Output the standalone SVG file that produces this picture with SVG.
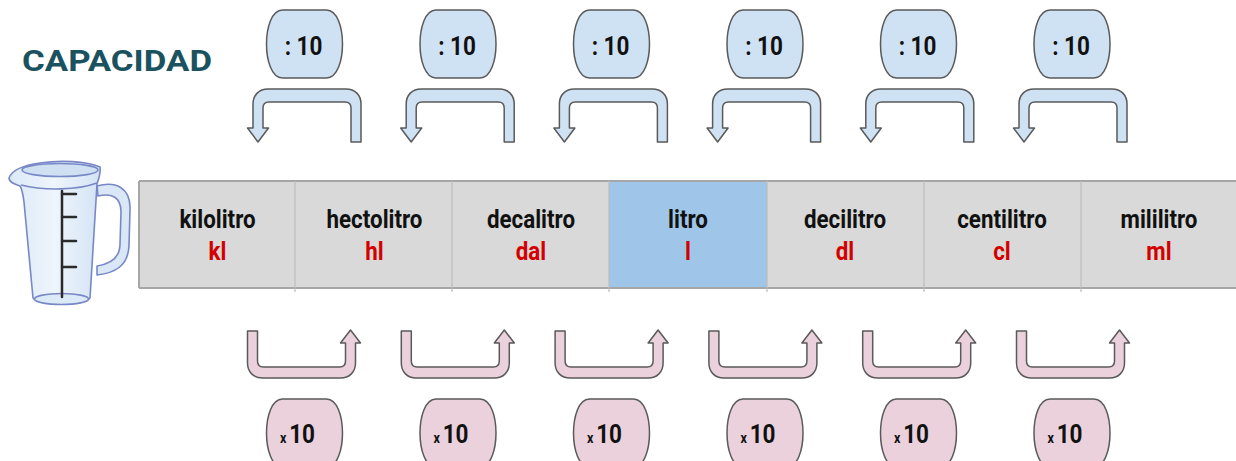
<svg xmlns="http://www.w3.org/2000/svg" width="1236" height="461" viewBox="0 0 1236 461">
  <style>
    .cell { fill: #d9d9d9; }
    .cell-main { fill: #9fc5e8; }
    .div { stroke: #bdbdbd; stroke-width: 1.2; }
    .edge { stroke: #a6a6a6; stroke-width: 2; }
    .name { font-family: Roboto, "Liberation Sans", sans-serif; font-weight: bold; font-size: 26px; fill: #111; text-anchor: middle; }
    .abbr { font-family: Roboto, "Liberation Sans", sans-serif; font-weight: bold; font-size: 26px; fill: #d40000; text-anchor: middle; }
    .title { font-family: Roboto, "Liberation Sans", sans-serif; font-weight: bold; font-size: 29px; fill: #1a5260; }
    .div-box { fill: #cfe2f3; stroke: #5a5a5a; stroke-width: 1.5; }
    .mul-box { fill: #ead1dc; stroke: #5a5a5a; stroke-width: 1.5; }
    .op { font-family: Roboto, "Liberation Sans", sans-serif; font-weight: bold; font-size: 25px; fill: #111; }
    .arrow-div { fill: #cfe2f3; stroke: #5a5a5a; stroke-width: 1.5; stroke-linejoin: round; }
    .arrow-mul { fill: #ead1dc; stroke: #5a5a5a; stroke-width: 1.5; stroke-linejoin: round; }
    .jug { stroke: #7888c6; stroke-width: 1.6; stroke-linejoin: round; }
    .tick { stroke: #2b2b2b; stroke-width: 2.5; stroke-linecap: round; }
  </style>
  <defs>
    <!-- barrel-shaped operator badge, centred on 0,0 -->
    <path id="badge" d="M-22,-34 H22 C33,-34 38,-16 38,0 C38,16 33,34 22,34 H-22 C-33,34 -38,16 -38,0 C-38,-16 -33,-34 -22,-34 Z"/>
    <!-- U-turn arrow pointing down-left; origin = centre of the left leg -->
    <path id="turn-down" d="M103,142 V104 C103,95 97,89 88,89 H10 C1,89 -5,95 -5,104 V128 H-10.5 L0,142 L10.5,128 H5 V108 C5,104 7,102 11,102 H87 C91,102 93,104 93,108 V142 Z"/>
    <!-- U-turn arrow pointing up-right; origin = centre of the left leg -->
    <path id="turn-up" d="M-5,331 V363 C-5,372 1,378 10,378 H88 C97,378 103,372 103,363 V343 H108 L98,330 L88,343 H93 V361 C93,365 91,367 87,367 H11 C7,367 5,365 5,361 V331 Z"/>
    <linearGradient id="glass" x1="0" y1="0" x2="1" y2="0">
      <stop offset="0" stop-color="#dbe9f7"/>
      <stop offset="0.5" stop-color="#eef5fc"/>
      <stop offset="1" stop-color="#d3e3f4"/>
    </linearGradient>
  </defs>

  <rect width="1236" height="461" fill="#ffffff"/>

  <text class="title" x="22" y="71" textLength="190" lengthAdjust="spacingAndGlyphs">CAPACIDAD</text>

  <!-- measuring jug -->
  <g id="jug">
    <path class="jug" fill="#d9e7f6" fill-rule="evenodd" d="M97,186 C115,181 131,187 130,210 L129,246 C128,266 115,273 97,275 L97,266 C110,264 120,258 120,244 L121,212 C121,197 112,193 98,196 Z"/>
    <path class="jug" fill="url(#glass)" d="M20,186 C14,184 9,182 9,178 C12,170 25,165 40,163 C60,160 86,161 100,167 C101,173 99,178 97,184 L90,298 C86,306 37,306 33,298 L24,202 C23,194 22,189 20,186 Z"/>
    <ellipse class="jug" cx="60" cy="170" rx="38" ry="6.5" fill="#cfe0f2"/>
    <path class="jug" fill="none" d="M21,185 C45,191 78,190 97,183"/>
    <ellipse class="jug" cx="61.5" cy="299" rx="27" ry="5.5" fill="#dce9f6"/>
    <line class="tick" x1="62" y1="191" x2="62" y2="297"/>
    <line class="tick" x1="62" y1="194" x2="76" y2="194"/>
    <line class="tick" x1="62" y1="217" x2="76" y2="217"/>
    <line class="tick" x1="62" y1="241" x2="76" y2="241"/>
    <line class="tick" x1="62" y1="267" x2="76" y2="267"/>
  </g>

  <!-- unit table -->
  <g id="table">
    <rect class="cell" x="139" y="181" width="1097" height="107"/>
    <rect class="cell-main" x="609" y="181" width="158" height="107"/>
    <line class="edge" x1="139" y1="181" x2="1236" y2="181"/>
    <line class="edge" x1="139" y1="288" x2="1236" y2="288"/>
    <line class="edge" x1="139" y1="181" x2="139" y2="288"/>
    <line class="div" x1="295" y1="181" x2="295" y2="292"/>
    <line class="div" x1="452" y1="181" x2="452" y2="292"/>
    <line class="div" x1="609" y1="181" x2="609" y2="292"/>
    <line class="div" x1="767" y1="181" x2="767" y2="292"/>
    <line class="div" x1="924" y1="181" x2="924" y2="292"/>
    <line class="div" x1="1081" y1="181" x2="1081" y2="292"/>
  </g>

  <g id="unit-kl"><text class="name" transform="translate(217.5,228) scale(0.86,1)">kilolitro</text><text class="abbr" transform="translate(217.5,260) scale(0.86,1)">kl</text></g>
  <g id="unit-hl"><text class="name" transform="translate(374.5,228) scale(0.86,1)">hectolitro</text><text class="abbr" transform="translate(374.5,260) scale(0.86,1)">hl</text></g>
  <g id="unit-dal"><text class="name" transform="translate(531,228) scale(0.86,1)">decalitro</text><text class="abbr" transform="translate(531,260) scale(0.86,1)">dal</text></g>
  <g id="unit-l"><text class="name" transform="translate(688,228) scale(0.86,1)">litro</text><text class="abbr" transform="translate(688,260) scale(0.86,1)">l</text></g>
  <g id="unit-dl"><text class="name" transform="translate(845,228) scale(0.86,1)">decilitro</text><text class="abbr" transform="translate(845,260) scale(0.86,1)">dl</text></g>
  <g id="unit-cl"><text class="name" transform="translate(1002,228) scale(0.86,1)">centilitro</text><text class="abbr" transform="translate(1002,260) scale(0.86,1)">cl</text></g>
  <g id="unit-ml"><text class="name" transform="translate(1159,228) scale(0.86,1)">mililitro</text><text class="abbr" transform="translate(1159,260) scale(0.86,1)">ml</text></g>

  <!-- divide-by-ten badges -->
  <g id="div-1" transform="translate(304.5,44)"><use href="#badge" class="div-box"/><text class="op" transform="translate(-1,11) scale(0.9,1)" text-anchor="middle">: 10</text></g>
  <g id="div-2" transform="translate(458,44)"><use href="#badge" class="div-box"/><text class="op" transform="translate(-1,11) scale(0.9,1)" text-anchor="middle">: 10</text></g>
  <g id="div-3" transform="translate(611.5,44)"><use href="#badge" class="div-box"/><text class="op" transform="translate(-1,11) scale(0.9,1)" text-anchor="middle">: 10</text></g>
  <g id="div-4" transform="translate(765,44)"><use href="#badge" class="div-box"/><text class="op" transform="translate(-1,11) scale(0.9,1)" text-anchor="middle">: 10</text></g>
  <g id="div-5" transform="translate(918.5,44)"><use href="#badge" class="div-box"/><text class="op" transform="translate(-1,11) scale(0.9,1)" text-anchor="middle">: 10</text></g>
  <g id="div-6" transform="translate(1072,44)"><use href="#badge" class="div-box"/><text class="op" transform="translate(-1,11) scale(0.9,1)" text-anchor="middle">: 10</text></g>

  <!-- multiply-by-ten badges -->
  <g id="mul-1" transform="translate(304.5,433)"><use href="#badge" class="mul-box"/><text class="op" transform="translate(-7,10) scale(0.9,1)" text-anchor="middle"><tspan font-size="14">x</tspan><tspan dx="3">10</tspan></text></g>
  <g id="mul-2" transform="translate(458,433)"><use href="#badge" class="mul-box"/><text class="op" transform="translate(-7,10) scale(0.9,1)" text-anchor="middle"><tspan font-size="14">x</tspan><tspan dx="3">10</tspan></text></g>
  <g id="mul-3" transform="translate(611.5,433)"><use href="#badge" class="mul-box"/><text class="op" transform="translate(-7,10) scale(0.9,1)" text-anchor="middle"><tspan font-size="14">x</tspan><tspan dx="3">10</tspan></text></g>
  <g id="mul-4" transform="translate(765,433)"><use href="#badge" class="mul-box"/><text class="op" transform="translate(-7,10) scale(0.9,1)" text-anchor="middle"><tspan font-size="14">x</tspan><tspan dx="3">10</tspan></text></g>
  <g id="mul-5" transform="translate(918.5,433)"><use href="#badge" class="mul-box"/><text class="op" transform="translate(-7,10) scale(0.9,1)" text-anchor="middle"><tspan font-size="14">x</tspan><tspan dx="3">10</tspan></text></g>
  <g id="mul-6" transform="translate(1072,433)"><use href="#badge" class="mul-box"/><text class="op" transform="translate(-7,10) scale(0.9,1)" text-anchor="middle"><tspan font-size="14">x</tspan><tspan dx="3">10</tspan></text></g>

  <!-- conversion arrows -->
  <g id="connectors">
    <use href="#turn-down" class="arrow-div" x="258"/>
    <use href="#turn-down" class="arrow-div" x="411.2"/>
    <use href="#turn-down" class="arrow-div" x="564.4"/>
    <use href="#turn-down" class="arrow-div" x="717.6"/>
    <use href="#turn-down" class="arrow-div" x="870.8"/>
    <use href="#turn-down" class="arrow-div" x="1024"/>
    <use href="#turn-up" class="arrow-mul" x="252.5"/>
    <use href="#turn-up" class="arrow-mul" x="406.3"/>
    <use href="#turn-up" class="arrow-mul" x="560.1"/>
    <use href="#turn-up" class="arrow-mul" x="713.9"/>
    <use href="#turn-up" class="arrow-mul" x="867.7"/>
    <use href="#turn-up" class="arrow-mul" x="1021.5"/>
  </g>
</svg>
